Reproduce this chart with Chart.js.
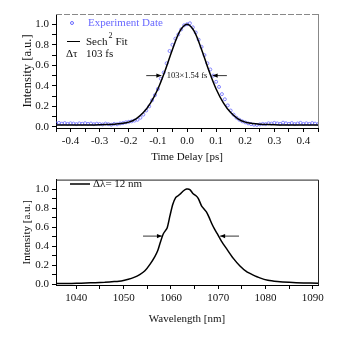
<!DOCTYPE html>
<html>
<head>
<meta charset="utf-8">
<script src="https://cdn.jsdelivr.net/npm/chart.js@4"></script>
<style>
  html, body { margin: 0; padding: 0; background: #fff; }
  #pulse { position: absolute; left: 0; top: 0; }
  #spectrum { position: absolute; left: 0; top: 170px; }
</style>
</head>
<body>
<canvas id="pulse" width="360" height="170"></canvas>
<canvas id="spectrum" width="360" height="167"></canvas>
<script>
// --- autocorrelation trace (top) ---
const timeExp = [-0.45, -0.44, -0.43, -0.42, -0.41, -0.40, -0.39, -0.38, -0.37, -0.36, -0.35, -0.34, -0.33, -0.32, -0.31, -0.30,
    -0.29, -0.28, -0.27, -0.26, -0.25, -0.24, -0.23, -0.22, -0.21, -0.20, -0.19, -0.18, -0.17, -0.16, -0.15, -0.14, -0.13,
    -0.12, -0.11, -0.10, -0.09, -0.08, -0.07, -0.06, -0.05, -0.04, -0.03, -0.02, -0.01, 0.00, 0.01, 0.02, 0.03, 0.04, 0.05,
    0.06, 0.07, 0.08, 0.09, 0.10, 0.11, 0.12, 0.13, 0.14, 0.15, 0.16, 0.17, 0.18, 0.19, 0.20, 0.21, 0.22, 0.23, 0.24, 0.25,
    0.26, 0.27, 0.28, 0.29, 0.30, 0.31, 0.32, 0.33, 0.34, 0.35, 0.36, 0.37, 0.38, 0.39, 0.40, 0.41, 0.42, 0.43, 0.44, 0.45];
const expIntensity = [0.035, 0.040, 0.032, 0.038, 0.030, 0.036, 0.033, 0.028, 0.035, 0.031, 0.037, 0.030, 0.034, 0.027, 0.032, 0.029,
    0.025, 0.033, 0.028, 0.022, 0.030, 0.026, 0.034, 0.038, 0.045, 0.050, 0.055, 0.062, 0.070, 0.090, 0.120, 0.160, 0.200,
    0.260, 0.310, 0.370, 0.470, 0.530, 0.620, 0.740, 0.800, 0.860, 0.900, 0.950, 0.990, 1.000, 1.010, 0.970, 0.920, 0.850, 0.780,
    0.700, 0.620, 0.560, 0.500, 0.440, 0.390, 0.320, 0.270, 0.210, 0.160, 0.120, 0.090, 0.070, 0.055, 0.045, 0.035, 0.028, 0.022, 0.020, 0.025,
    0.030, 0.028, 0.036, 0.033, 0.040, 0.035, 0.030, 0.042, 0.036, 0.030, 0.038, 0.028, 0.034, 0.040, 0.030, 0.036, 0.030, 0.038, 0.033, 0.028];

const timeFit = [-0.45, -0.425, -0.40, -0.375, -0.35, -0.325, -0.30, -0.275, -0.25, -0.225, -0.20, -0.175, -0.15, -0.125, -0.10,
    -0.075, -0.05, -0.025, 0, 0.025, 0.05, 0.075, 0.10, 0.125, 0.15, 0.175, 0.20, 0.225, 0.25, 0.275, 0.30, 0.325, 0.35,
    0.375, 0.40, 0.425, 0.45];
const fitIntensity = [0.018, 0.018, 0.018, 0.019, 0.019, 0.020, 0.021, 0.023, 0.027, 0.034, 0.047, 0.080, 0.140, 0.235, 0.370,
    0.550, 0.755, 0.930, 1.000, 0.930, 0.755, 0.550, 0.370, 0.235, 0.140, 0.080, 0.047, 0.034, 0.027, 0.023, 0.021, 0.020, 0.019,
    0.019, 0.018, 0.018, 0.018];

const timeMajorTicks = [-0.4, -0.3, -0.2, -0.1, 0, 0.1, 0.2, 0.3, 0.4];
const timeMinorTicks = [-0.45, -0.35, -0.25, -0.15, -0.05, 0.05, 0.15, 0.25, 0.35, 0.45];

// --- spectrum (bottom) ---
const wavelength = [1035.7, 1038, 1040, 1042, 1044, 1046, 1048, 1049.5, 1051, 1052.2, 1053.4, 1054.5, 1055.6, 1056.6, 1057.2,
    1057.7, 1058.4, 1059.2, 1059.8, 1060.4, 1061, 1061.5, 1061.9, 1062.6, 1063.3, 1064, 1064.7, 1065.3, 1065.8, 1066.5, 1067,
    1067.5, 1068.1, 1068.6, 1069.2, 1069.8, 1070.7, 1071.8, 1073.2, 1074.6, 1076, 1077.2, 1078.8, 1080.5, 1082.5, 1085, 1088, 1091.1];
const spectrumIntensity = [0.005, 0.006, 0.008, 0.011, 0.015, 0.019, 0.026, 0.033, 0.050, 0.070, 0.100, 0.140, 0.210, 0.290, 0.350,
    0.430, 0.530, 0.590, 0.720, 0.840, 0.910, 0.930, 0.945, 0.980, 1.000, 0.995, 0.950, 0.930, 0.900, 0.820, 0.790,
    0.760, 0.700, 0.640, 0.580, 0.530, 0.450, 0.370, 0.270, 0.190, 0.130, 0.100, 0.065, 0.040, 0.027, 0.018, 0.012, 0.009];

const wlMajorTicks = [1040, 1050, 1060, 1070, 1080, 1090];
const wlMinorTicks = [1045, 1055, 1065, 1075, 1085];

const intensityMajorTicks = [0, 0.2, 0.4, 0.6, 0.8, 1.0];
const intensityMinorTicks = [0.1, 0.3, 0.5, 0.7, 0.9];

const SERIF = "'Liberation Serif', 'Times New Roman', serif";
const BLUE = 'rgb(105,105,255)';

function tickAxis(majors, minors, digits, extra) {
    return Object.assign({
        type: 'linear',
        afterBuildTicks: (scale) => {
            scale.ticks = majors.concat(minors).sort((a, b) => a - b).map(v => ({ value: v }));
        },
        ticks: {
            autoSkip: false,
            maxRotation: 0,
            padding: 3,
            color: '#111',
            font: { family: SERIF, size: 11 },
            callback: (v) => majors.some(m => Math.abs(m - v) < 1e-9) ? Number(v).toFixed(digits) : ''
        },
        grid: { drawOnChartArea: false, drawTicks: true, tickLength: 4, color: '#000' },
        border: { color: '#000', width: 1 }
    }, extra);
}

function arrow(ctx, x1, x2, y) {
    // line from tail x1 to tip x2
    const dir = Math.sign(x2 - x1);
    ctx.beginPath();
    ctx.moveTo(x1, y);
    ctx.lineTo(x2, y);
    ctx.stroke();
    ctx.beginPath();
    ctx.moveTo(x2, y);
    ctx.lineTo(x2 - dir * 5, y - 2.2);
    ctx.lineTo(x2 - dir * 5, y + 2.2);
    ctx.closePath();
    ctx.fill();
}

// fwhm markers, in data units
const pulseArrows = { y: 0.5, left: [-0.14, -0.088], right: [0.137, 0.088] };
const specArrows = { y: 0.505, left: [1054.1, 1058.1], right: [1074.4, 1070.4] };

const pulseDecor = {
    id: 'pulseDecor',
    afterDraw(chart) {
        const ctx = chart.ctx, a = chart.chartArea;
        const xs = chart.scales.x, ys = chart.scales.y;
        ctx.save();
        // frame: dashed grey top, grey right
        ctx.strokeStyle = '#888';
        ctx.lineWidth = 1;
        ctx.setLineDash([6, 2]);
        ctx.beginPath();
        ctx.moveTo(a.left, a.top + 0.5);
        ctx.lineTo(a.right, a.top + 0.5);
        ctx.stroke();
        ctx.setLineDash([]);
        ctx.beginPath();
        ctx.moveTo(a.right + 0.5, a.top);
        ctx.lineTo(a.right + 0.5, a.bottom);
        ctx.stroke();

        // legend
        ctx.font = '11px ' + SERIF;
        ctx.textBaseline = 'middle';
        ctx.strokeStyle = BLUE;
        ctx.beginPath();
        ctx.arc(72, 23, 1.5, 0, Math.PI * 2);
        ctx.stroke();
        ctx.fillStyle = BLUE;
        ctx.fillText('Experiment Date', 88, 23);

        ctx.strokeStyle = '#000';
        ctx.fillStyle = '#111';
        ctx.beginPath();
        ctx.moveTo(67, 41.5);
        ctx.lineTo(80, 41.5);
        ctx.stroke();
        ctx.fillText('Sech', 86, 42);
        const w = ctx.measureText('Sech').width;
        ctx.font = '8px ' + SERIF;
        ctx.fillText('2', 86 + w + 1, 36);
        ctx.font = '11px ' + SERIF;
        ctx.fillText('Fit', 86 + w + 8, 42);
        ctx.fillText('\u0394\u03c4', 66, 54);
        ctx.fillText('103 fs', 86, 54);

        // fwhm annotation
        const yy = ys.getPixelForValue(pulseArrows.y);
        ctx.fillStyle = '#000';
        ctx.lineWidth = 0.8;
        arrow(ctx, xs.getPixelForValue(pulseArrows.left[0]), xs.getPixelForValue(pulseArrows.left[1]), yy);
        arrow(ctx, xs.getPixelForValue(pulseArrows.right[0]), xs.getPixelForValue(pulseArrows.right[1]), yy);
        ctx.font = '8.5px ' + SERIF;
        ctx.textAlign = 'center';
        ctx.fillStyle = '#111';
        ctx.fillText('103\u00d71.54 fs', xs.getPixelForValue(0), yy);
        ctx.restore();
    }
};

const specDecor = {
    id: 'specDecor',
    afterDraw(chart) {
        const ctx = chart.ctx, a = chart.chartArea;
        const xs = chart.scales.x, ys = chart.scales.y;
        ctx.save();
        ctx.strokeStyle = '#222';
        ctx.lineWidth = 1;
        ctx.beginPath();
        ctx.moveTo(a.left, a.top + 0.5);
        ctx.lineTo(a.right + 0.5, a.top + 0.5);
        ctx.lineTo(a.right + 0.5, a.bottom);
        ctx.stroke();

        // legend (canvas-local coordinates, canvas starts at y=170)
        ctx.lineWidth = 1.5;
        ctx.strokeStyle = '#000';
        ctx.beginPath();
        ctx.moveTo(70, 14);
        ctx.lineTo(90, 14);
        ctx.stroke();
        ctx.font = '11px ' + SERIF;
        ctx.textBaseline = 'middle';
        ctx.fillStyle = '#111';
        ctx.fillText('\u0394\u03bb= 12 nm', 93, 14.5);

        const yy = ys.getPixelForValue(specArrows.y);
        ctx.fillStyle = '#000';
        ctx.lineWidth = 0.8;
        arrow(ctx, xs.getPixelForValue(specArrows.left[0]), xs.getPixelForValue(specArrows.left[1]), yy);
        arrow(ctx, xs.getPixelForValue(specArrows.right[0]), xs.getPixelForValue(specArrows.right[1]), yy);
        ctx.restore();
    }
};

new Chart(document.getElementById('pulse'), {
    type: 'line',
    data: {
        datasets: [{
            label: 'Sech2 Fit',
            data: timeFit.map((t, i) => ({ x: t, y: fitIntensity[i] })),
            borderColor: '#000',
            borderWidth: 1.5,
            pointRadius: 0,
            cubicInterpolationMode: 'monotone',
            order: 0
        }, {
            label: 'Experiment Date',
            data: timeExp.map((t, i) => ({ x: t, y: expIntensity[i] })),
            showLine: false,
            pointStyle: 'circle',
            pointRadius: 1.5,
            borderWidth: 0.8,
            borderColor: BLUE,
            backgroundColor: 'rgba(0,0,0,0)',
            order: 1
        }]
    },
    options: {
        responsive: false,
        animation: false,
        layout: { padding: { top: 14, right: 42, left: 0, bottom: 0 } },
        plugins: { legend: { display: false }, tooltip: { enabled: false } },
        scales: {
            x: tickAxis(timeMajorTicks, timeMinorTicks, 1, {
                min: -0.45, max: 0.45,
                afterFit: (s) => { s.height = 42; },
                title: { display: true, text: 'Time Delay [ps]', color: '#111',
                    font: { family: SERIF, size: 11 }, padding: { top: 0, bottom: 6 } }
            }),
            y: tickAxis(intensityMajorTicks, intensityMinorTicks, 1, {
                min: -0.01, max: 1.1,
                afterFit: (s) => { s.width = 56; },
                title: { display: true, text: 'Intensity [a.u.]', color: '#111',
                    font: { family: SERIF, size: 12.5 }, padding: { top: 20, bottom: 0 } }
            })
        }
    },
    plugins: [pulseDecor]
});

new Chart(document.getElementById('spectrum'), {
    type: 'line',
    data: {
        datasets: [{
            label: '\u0394\u03bb= 12 nm',
            data: wavelength.map((w, i) => ({ x: w, y: spectrumIntensity[i] })),
            borderColor: '#000',
            borderWidth: 1.5,
            pointRadius: 0,
            tension: 0.2
        }]
    },
    options: {
        responsive: false,
        animation: false,
        layout: { padding: { top: 1, right: 42, left: 0, bottom: 0 } },
        plugins: { legend: { display: false }, tooltip: { enabled: false } },
        scales: {
            x: tickAxis(wlMajorTicks, wlMinorTicks, 0, {
                min: 1035.7, max: 1091.1,
                afterFit: (s) => { s.height = 52; },
                title: { display: true, text: 'Wavelength [nm]', color: '#111',
                    font: { family: SERIF, size: 11 }, padding: { top: 0, bottom: 11 } }
            }),
            y: tickAxis(intensityMajorTicks, intensityMinorTicks, 1, {
                min: -0.01, max: 1.1,
                afterFit: (s) => { s.width = 56; },
                title: { display: true, text: 'Intensity [a.u.]', color: '#111',
                    font: { family: SERIF, size: 11 }, padding: { top: 21, bottom: 0 } }
            })
        }
    },
    plugins: [specDecor]
});
</script>
</body>
</html>
